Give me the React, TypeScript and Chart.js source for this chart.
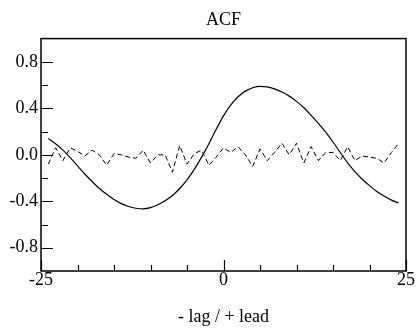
import React, { useEffect, useRef } from "react";
import { Chart, registerables } from "chart.js";

Chart.register(...registerables);

const lags = [
  -24, -23, -22, -21, -20, -19, -18, -17, -16, -15, -14, -13, -12, -11, -10, -9, -8, -7, -6, -5, -4, -3, -2, -1,
  0, 1, 2, 3, 4, 5, 6, 7, 8, 9, 10, 11, 12, 13, 14, 15, 16, 17, 18, 19, 20, 21, 22, 23, 24,
];

const acfSmooth = [
  0.14, 0.095, 0.04, -0.025, -0.095, -0.165, -0.23, -0.29, -0.34, -0.385, -0.42, -0.445, -0.46, -0.465, -0.455,
  -0.43, -0.395, -0.35, -0.29, -0.215, -0.125, -0.02, 0.095, 0.22,
  0.335, 0.43, 0.5, 0.548, 0.577, 0.588, 0.585, 0.567, 0.54, 0.505, 0.46, 0.405, 0.34, 0.27, 0.195, 0.11, 0.02,
  -0.07, -0.145, -0.21, -0.265, -0.315, -0.355, -0.39, -0.415,
];

const acfNoise = [
  -0.08, 0.06, -0.05, 0.06, 0.03, -0.01, 0.04, 0.0, -0.09, 0.01, 0.0, -0.02, -0.03, 0.04, -0.07, 0.0, 0.0,
  -0.15, 0.08, -0.08, 0.01, 0.04, -0.09, -0.02,
  0.06, 0.02, 0.07, 0.0, -0.1, 0.05, -0.05, 0.02, 0.1, 0.0, 0.1, -0.07, 0.07, -0.05, 0.02, 0.02, -0.05, 0.07,
  -0.05, -0.01, -0.02, -0.03, -0.07, 0.02, 0.1,
];

const xMajorTicks = [-25, 0, 25];
const xMinorTicks = [-20, -15, -10, -5, 5, 10, 15, 20];
const yMajorTicks = [-0.8, -0.4, 0.0, 0.4, 0.8];
const yMinorTicks = [-0.6, -0.2, 0.2, 0.6];

const titleText = "ACF";
const xTitleText = "- lag / + lead";

const FONT_FAMILY = "'Liberation Serif', 'Times New Roman', serif";

const framePlugin = {
  id: "frameTicks",
  afterDatasetsDraw(chart: any) {
    const { ctx, chartArea, scales } = chart;
    const { left, right, top, bottom } = chartArea;
    ctx.save();
    ctx.strokeStyle = "#000";
    ctx.lineWidth = 1.5;
    ctx.strokeRect(left, top, right - left, bottom - top);
    ctx.lineWidth = 1.2;
    ctx.beginPath();
    for (const v of yMajorTicks) {
      const y = Math.round(scales.y.getPixelForValue(v)) + 0.5;
      ctx.moveTo(left, y);
      ctx.lineTo(left + 12, y);
    }
    for (const v of yMinorTicks) {
      const y = Math.round(scales.y.getPixelForValue(v)) + 0.5;
      ctx.moveTo(left, y);
      ctx.lineTo(left + 7, y);
    }
    for (const v of xMajorTicks) {
      const x = Math.round(scales.x.getPixelForValue(v)) + 0.5;
      ctx.moveTo(x, bottom);
      ctx.lineTo(x, bottom - 11);
    }
    for (const v of xMinorTicks) {
      const x = Math.round(scales.x.getPixelForValue(v)) + 0.5;
      ctx.moveTo(x, bottom);
      ctx.lineTo(x, bottom - 6);
    }
    ctx.stroke();
    ctx.restore();
  },
};

export default function App() {
  const canvasRef = useRef<HTMLCanvasElement | null>(null);

  useEffect(() => {
    const canvas = canvasRef.current;
    if (!canvas) return;
    const font = { family: FONT_FAMILY, size: 18, weight: "normal" as const };
    const chart = new Chart(canvas, {
      type: "line",
      data: {
        datasets: [
          {
            data: lags.map((l, i) => ({ x: l, y: acfSmooth[i] })),
            borderColor: "#000",
            borderWidth: 1.2,
            pointRadius: 0,
            tension: 0.4,
            cubicInterpolationMode: "monotone",
            fill: false,
          },
          {
            data: lags.map((l, i) => ({ x: l, y: acfNoise[i] })),
            borderColor: "#000",
            borderWidth: 1,
            borderDash: [5, 3],
            pointRadius: 0,
            tension: 0,
            fill: false,
          },
        ],
      },
      options: {
        responsive: false,
        animation: false,
        devicePixelRatio: 1,
        layout: { padding: { left: 0, right: 10, top: 0, bottom: 0 } },
        plugins: {
          legend: { display: false },
          tooltip: { enabled: false },
          title: {
            display: true,
            fullSize: false,
            text: titleText,
            color: "#000",
            font,
            padding: { top: 9, bottom: 8 },
          },
        },
        scales: {
          x: {
            type: "linear",
            min: -25,
            max: 25,
            afterBuildTicks: (s: any) => {
              s.ticks = xMajorTicks.map((v) => ({ value: v }));
            },
            afterFit: (s: any) => {
              s.height = 57;
            },
            grid: { display: false, drawTicks: false },
            border: { display: false },
            ticks: {
              color: "#000",
              font,
              padding: -2,
              maxRotation: 0,
              autoSkip: false,
              callback: (v: any) => String(v),
            },
            title: {
              display: true,
              text: xTitleText,
              color: "#000",
              font,
              padding: { top: 0, bottom: 0 },
            },
          },
          y: {
            type: "linear",
            min: -1,
            max: 1,
            afterBuildTicks: (s: any) => {
              s.ticks = yMajorTicks.map((v) => ({ value: v }));
            },
            afterFit: (s: any) => {
              s.width = 41;
            },
            grid: { display: false, drawTicks: false },
            border: { display: false },
            ticks: {
              color: "#000",
              font,
              padding: 3,
              autoSkip: false,
              callback: (v: any) => Number(v).toFixed(1),
            },
          },
        },
      },
      plugins: [framePlugin],
    });
    return () => chart.destroy();
  }, []);

  return (
    <div style={{ position: "fixed", left: 0, top: 0, width: 416, height: 328, background: "#fff" }}>
      <canvas ref={canvasRef} width={416} height={328} />
    </div>
  );
}
